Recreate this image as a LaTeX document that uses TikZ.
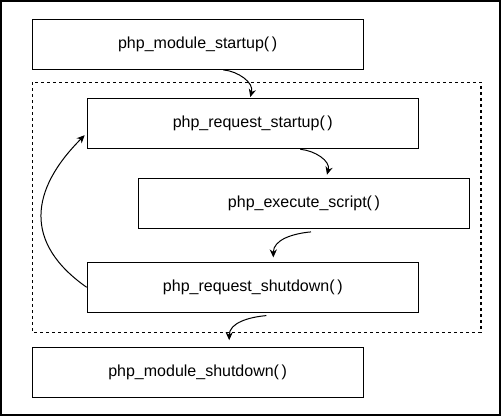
\documentclass[tikz,border=0pt]{standalone}
\usepackage{fontspec}
\setmainfont{Liberation Sans}
\usepackage{tikz}
\usetikzlibrary{arrows.meta}

\begin{document}
\begin{tikzpicture}[x=0.5pt,y=0.5pt,
  box/.style={draw,line width=0.6pt,minimum width=165.5pt,minimum height=25pt,inner sep=0pt},
  flow/.style={-{Stealth[length=4pt,width=3.6pt]},line width=0.5pt},
  every node/.style={font=\fontsize{8}{9.6}\selectfont}]
\useasboundingbox (0,0) rectangle (501,-416);
\draw[line width=0.6pt] (1,-1) rectangle (500,-415);
\draw[line width=0.6pt,dash pattern=on 1.5pt off 1.5pt] (32.3,-82.3) rectangle (481,-332.3);
\node[box] (ms) at (197.7,-44.3) {php\_module\_startup(\,)};
\node[box] (rs) at (252.8,-123.7) {php\_request\_startup(\,)};
\node[box] (es) at (304,-203.3) {php\_execute\_script(\,)};
\node[box] (rd) at (252.8,-287.3) {php\_request\_shutdown(\,)};
\node[box] (md) at (197.7,-372.5) {php\_module\_shutdown(\,)};
\draw[flow] ([xshift=12.75pt]ms.south) to[out=-5,in=75] ([xshift=-1.25pt,yshift=0.5pt]rs.north);
\draw[flow] ([xshift=23.75pt]rs.south) to[out=-5,in=75] ([xshift=11.5pt,yshift=1.5pt]es.north);
\draw[flow] ([xshift=3.5pt,yshift=-1.5pt]es.south) to[out=185,in=90] ([xshift=10.25pt,yshift=2.15pt]rd.north);
\draw[flow] ([xshift=6.75pt,yshift=-1.35pt]rd.south) to[out=185,in=90] ([xshift=15.75pt,yshift=3.35pt]md.north);
\draw[flow] (rd.west) to[out=145,in=225,looseness=1.3] ([xshift=-1pt,yshift=-5.75pt]rs.west);
\end{tikzpicture}
\end{document}
